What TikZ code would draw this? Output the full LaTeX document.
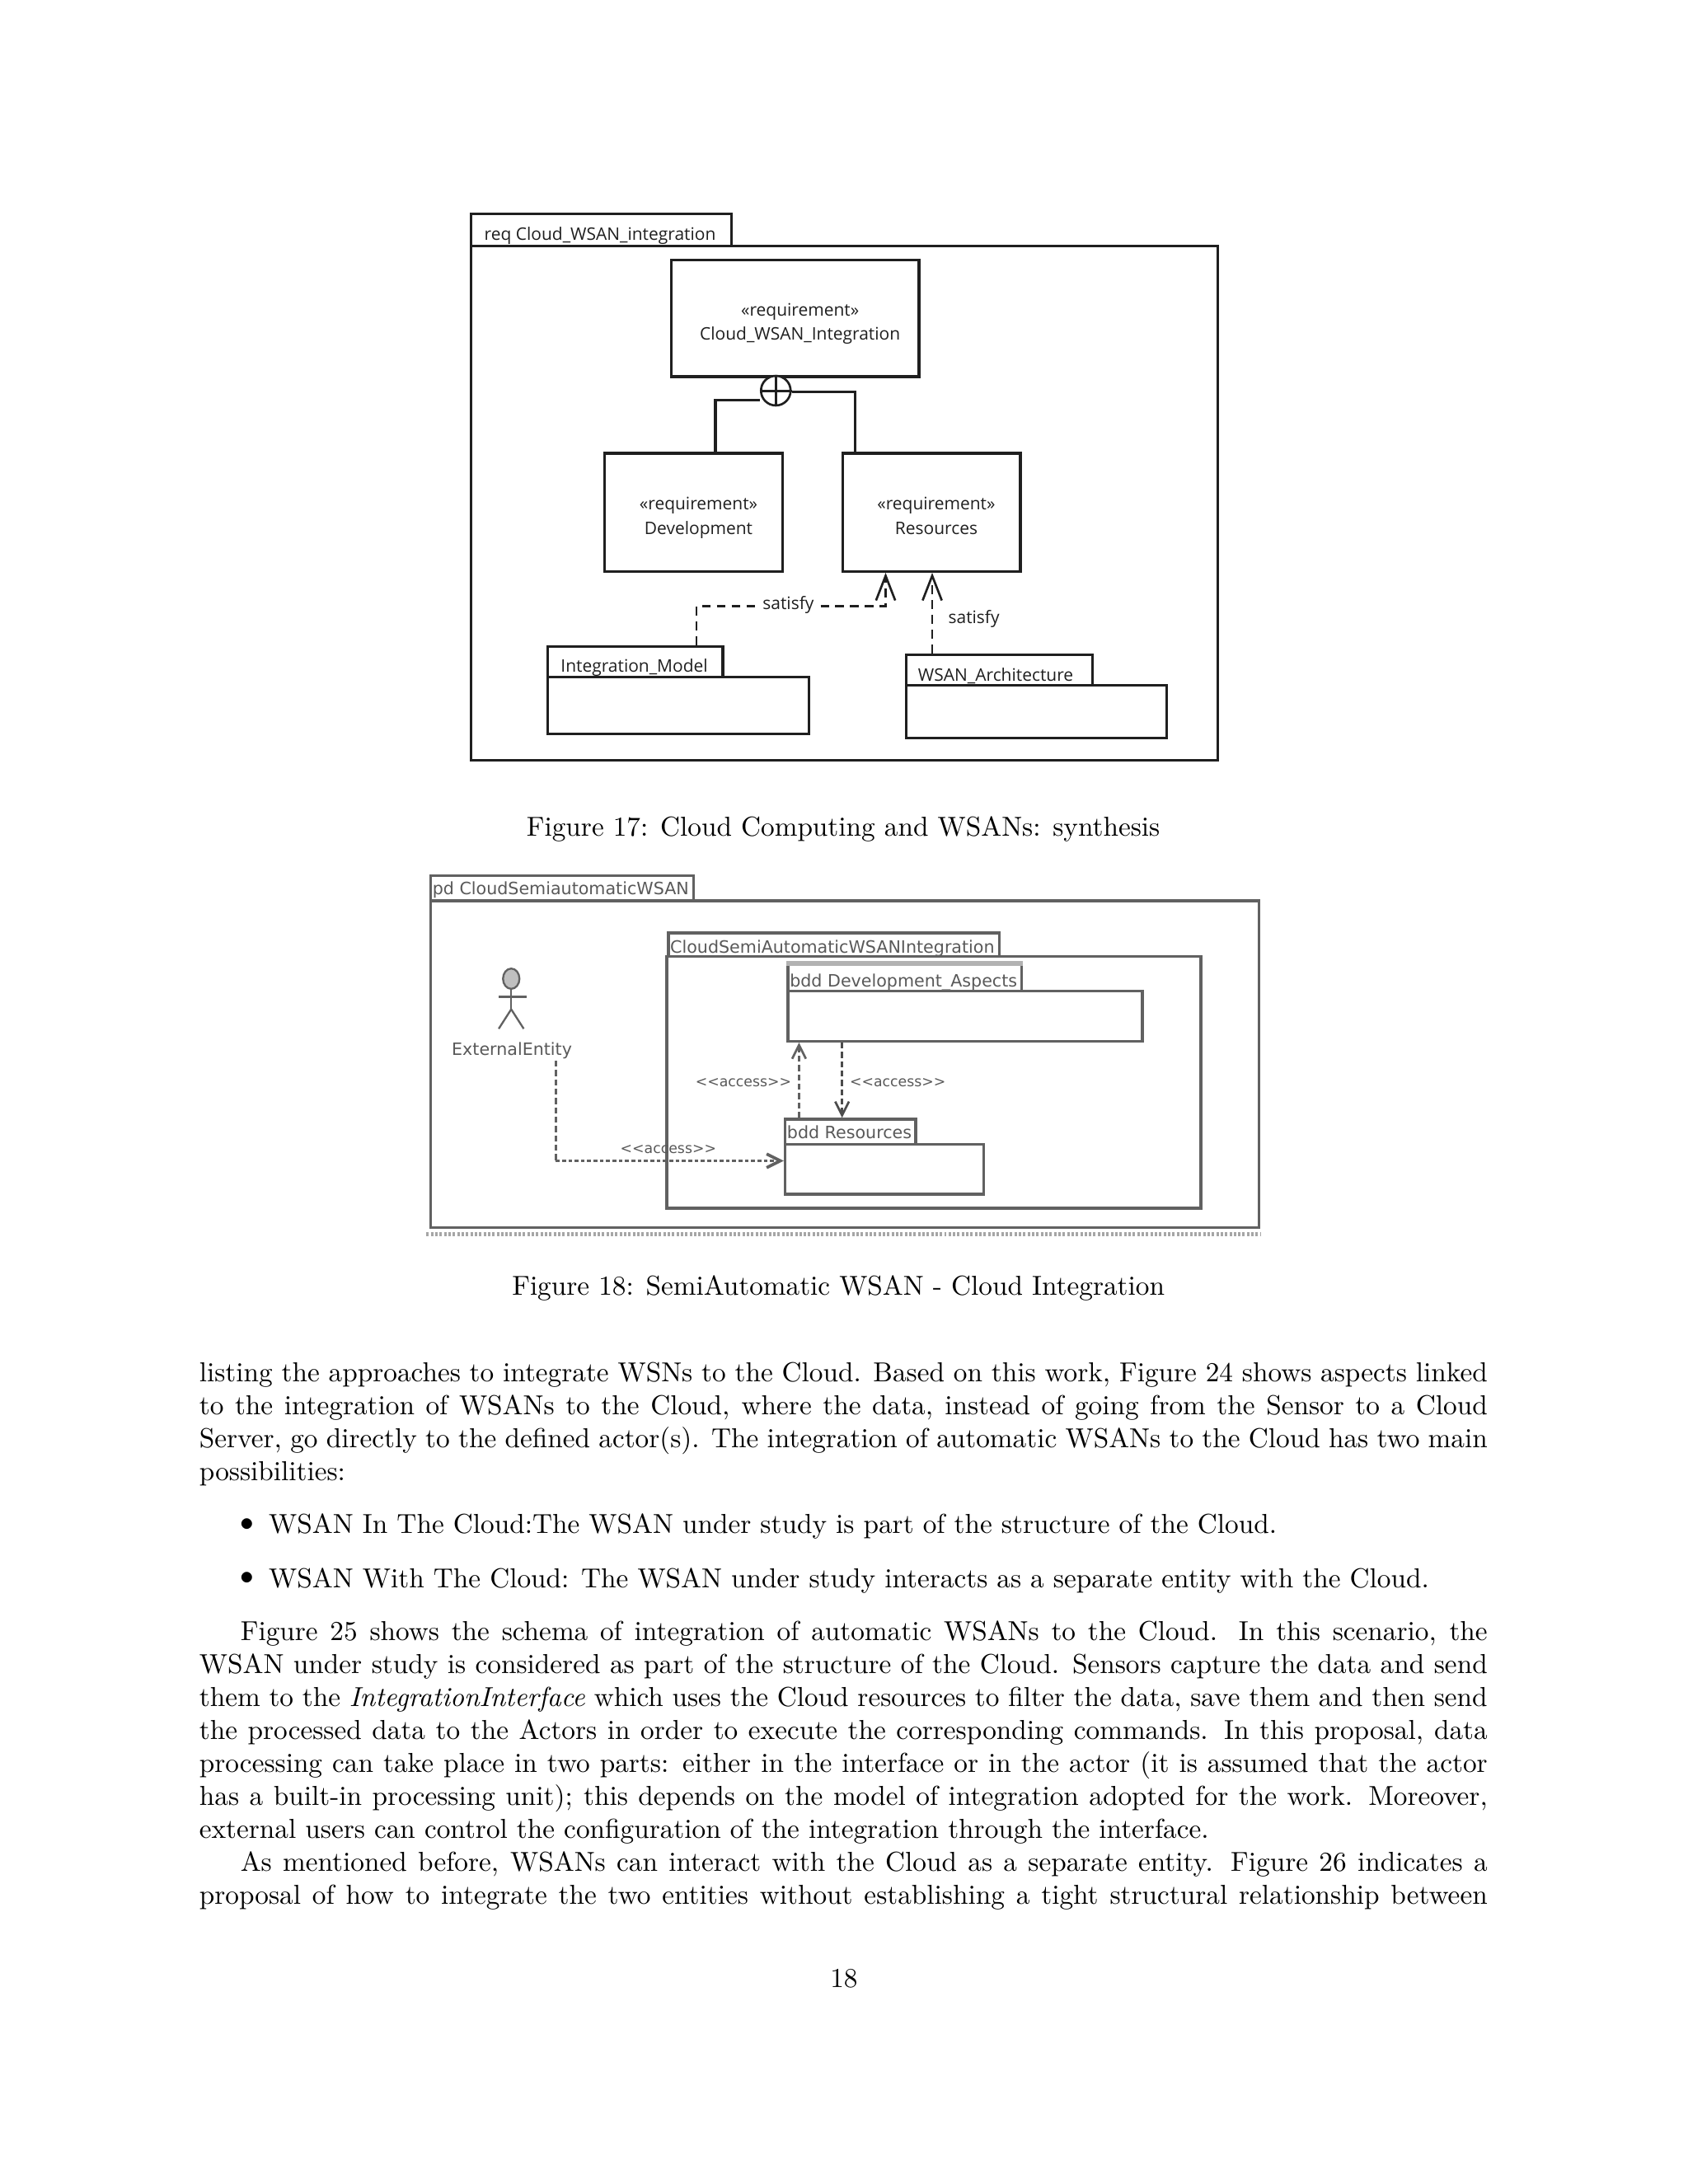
\documentclass[tikz,border=0pt]{standalone}
\usepackage{fontspec}
\usetikzlibrary{arrows.meta,shapes.geometric}
\newfontfamily\reqfont{Open Sans}
\newfontfamily\pdfont{DejaVu Sans}
\def\unitpt{0.507pt}
\newcommand{\reqtext}[1]{\rule{0pt}{9pt}\hspace*{3.5pt}«requirement»\\\hspace*{3.5pt}#1\rule[-2pt]{0pt}{2pt}}
\definecolor{reqline}{gray}{0.12}
\definecolor{pdline}{gray}{0.38}
\definecolor{pdtext}{gray}{0.35}
\tikzset{
    umlbox/.style 2 args={draw, anchor=north west, inner sep=0pt, minimum width=#1*\unitpt, minimum height=#2*\unitpt, align=center},
    reqstyle/.style={line width=1pt, draw=reqline, text=reqline, font=\reqfont\fontsize{6.3}{8.9}\selectfont},
    reqtitle/.style={draw=none, text=reqline, inner sep=0pt, font=\reqfont\fontsize{6.3}{8.9}\selectfont},
    pdstyle/.style={line width=1pt, draw=pdline, text=pdtext, font=\pdfont\fontsize{6.2}{8}\selectfont},
    pdtitle/.style={draw=none, text=pdtext, inner sep=0pt, font=\pdfont\fontsize{6.2}{8}\selectfont},
    accesslabel/.style={draw=none, text=pdtext, inner sep=0pt, font=\pdfont\fontsize{5.2}{6}\selectfont},
    satisfyline/.style={line width=0.8pt, draw=reqline, dash pattern=on 3.2pt off 2.2pt, -{Straight Barb[length=9pt,width=7pt]}},
    accessline/.style={line width=0.8pt, draw=#1, dash pattern=on 2.2pt off 1.2pt, -{Straight Barb[length=5pt,width=5pt]}},
    bodytext/.style={anchor=north west, inner sep=0pt, text width=469.75pt, align=justify},
    captiontext/.style={inner sep=0pt}
}
\begin{document}
\begin{tikzpicture}[x=0.507pt, y=-0.507pt]
    \useasboundingbox (0,0) rectangle (1214,1571);

    % Figure 17: requirement diagram
    \node[umlbox={187}{23}, reqstyle] (reqtab) at (338,153) {};
    \node[reqtitle, anchor=west] (reqname) at (348,169.5) {req Cloud\_WSAN\_integration};
    \node[umlbox={537}{370}, reqstyle] (reqframe) at (338,176) {};
    \node[umlbox={178}{84}, reqstyle] (cloudreq) at (482,186) {\reqtext{Cloud\_WSAN\_Integration}};
    \node[umlbox={128}{85}, reqstyle] (devreq) at (434,325) {\reqtext{Development}};
    \node[umlbox={128}{85}, reqstyle] (resreq) at (605,325) {\reqtext{Resources}};
    \node[umlbox={126}{22}, reqstyle] (intmodeltab) at (393,464) {};
    \node[reqtitle, anchor=west] (intmodelname) at (403,480) {Integration\_Model};
    \node[umlbox={188}{41}, reqstyle] (intmodel) at (393,486) {};
    \node[umlbox={134}{22}, reqstyle] (archtab) at (651,470) {};
    \node[reqtitle, anchor=west] (archname) at (660,486) {WSAN\_Architecture};
    \node[umlbox={187}{38}, reqstyle] (arch) at (651,492) {};

    % containment circle with its cross
    \node[circle, draw=reqline, fill=white, line width=0.8pt, minimum size=10.8pt, inner sep=0pt] (xorcirc) at (558,281) {};
    \draw[reqline, line width=0.9pt] (xorcirc.north) -- (xorcirc.south);
    \draw[reqline, line width=0.9pt] (xorcirc.west) -- (xorcirc.east);

    \coordinate (devbend) at (514.5,288);
    \coordinate (resbend) at (615,282);
    \draw[reqline, line width=1pt] (xorcirc.west |- devbend) -- (devbend) -- (devbend |- devreq.north);
    \draw[reqline, line width=1pt] (xorcirc.east |- resbend) -- (resbend) -- (resbend |- resreq.north);

    % satisfy links
    \coordinate (satbend) at (501,436);
    \coordinate (sattip) at (637,436);
    \coordinate (archtip) at (670.5,436);
    \draw[satisfyline] (satbend |- intmodeltab.north) -- (satbend) -- (sattip) -- (sattip |- resreq.south);
    \draw[satisfyline] (archtip |- archtab.north) -- (archtip |- resreq.south);
    \node[reqtitle, fill=white, inner sep=1pt] (satleft) at (567,435) {satisfy};
    \node[reqtitle] (satright) at (700.5,445.5) {satisfy};

    \node[captiontext] (captionA) at (606.5,596.5) {Figure 17: Cloud Computing and WSANs: synthesis};

    % Figure 18: package diagram
    \begin{scope}[shift={(0.7,1)}]
    \node[umlbox={189}{18}, pdstyle] (pdtab) at (308,628) {};
    \node[pdtitle, anchor=west] (pdname) at (310,639) {pd CloudSemiautomaticWSAN};
    \node[umlbox={596}{235}, pdstyle] (pdframe) at (308,646) {};
    \draw[gray!70, line width=1.5pt, dash pattern=on 0.9pt off 0.7pt] (pdframe.south west) ++(-2,4) coordinate (dotA) -- ++(600,0) coordinate (dotB);
    \node[umlbox={238}{17}, pdstyle] (cloudtab) at (479,669) {};
    \node[pdtitle, anchor=west] (cloudname) at (481,681) {CloudSemiAutomaticWSANIntegration};
    \node[umlbox={384}{181}, pdstyle] (cloudpkg) at (478,686) {};
    \node[umlbox={168}{19}, pdstyle] (devtab) at (565,692) {};
    \draw[gray!60, line width=2pt] (devtab.north west) -- (devtab.north east);
    \node[pdtitle, anchor=west] (devname) at (567,705.5) {bdd Development\_Aspects};
    \node[umlbox={255}{36}, pdstyle] (devpkg) at (565,711) {};
    \node[umlbox={94}{18}, pdstyle] (restab) at (563,803) {};
    \node[pdtitle, anchor=west] (resname) at (565,813.5) {bdd Resources};
    \node[umlbox={143}{36}, pdstyle] (respkg) at (563,821) {};

    % actor
    \node[ellipse, draw=pdline, fill=gray!50, line width=0.7pt, minimum width=6pt, minimum height=7.4pt, inner sep=0pt] (actorhead) at (367,703) {};
    \coordinate (actorhip) at (367,725);
    \draw[pdline, line width=0.7pt] (actorhead.south) -- (actorhip);
    \draw[pdline, line width=0.7pt] (358,716) coordinate (armL) -- (378,716) coordinate (armR);
    \draw[pdline, line width=0.7pt] (actorhip) -- (358,739) coordinate (legL);
    \draw[pdline, line width=0.7pt] (actorhip) -- (376,739) coordinate (legR);
    \node[pdtitle] (actorname) at (367.5,755) {ExternalEntity};

    % access links
    \coordinate (upx) at (574,775);
    \coordinate (downx) at (605,775);
    \coordinate (extstart) at (399,762);
    \coordinate (extbend) at (399,834);
    \draw[accessline=pdline] (upx |- restab.north) -- (upx |- devpkg.south);
    \draw[accessline=black!70] (downx |- devpkg.south) -- (downx |- restab.north);
    \draw[accessline=pdline, -] (extstart) -- (extbend);
    \draw[accessline=pdline, line width=1.1pt, dash pattern=on 1.4pt off 0.9pt] (extbend) -- (extbend -| respkg.west);
    \node[accesslabel] (accessA) at (534,777.5) {<{}<access>{}>};
    \node[accesslabel] (accessB) at (645,777.5) {<{}<access>{}>};
    \node[accesslabel] (accessC) at (480,826) {<{}<access>{}>};
    \end{scope}

    \node[captiontext] (captionB) at (603,926.5) {Figure 18: SemiAutomatic WSAN - Cloud Integration};

    % page text
    \node[bodytext] (paraA) at (143,979.5) {listing the approaches to integrate WSNs to the Cloud. Based on this work, Figure 24 shows aspects linked to the integration of WSANs to the Cloud, where the data, instead of going from the Sensor to a Cloud Server, go directly to the defined actor(s). The integration of automatic WSANs to the Cloud has two main possibilities:};
    \node[inner sep=0pt] (bulletA) at (177.5,1096.5) {$\bullet$};
    \node[anchor=west, inner sep=0pt] (itemA) at (193,1098) {WSAN In The Cloud:The WSAN under study is part of the structure of the Cloud.};
    \node[inner sep=0pt] (bulletB) at (177.5,1135.5) {$\bullet$};
    \node[anchor=west, inner sep=0pt] (itemB) at (193,1137) {WSAN With The Cloud: The WSAN under study interacts as a separate entity with the Cloud.};
    \node[bodytext] (paraB) at (143,1165.5) {\hspace*{15pt}Figure 25 shows the schema of integration of automatic WSANs to the Cloud. In this scenario, the WSAN under study is considered as part of the structure of the Cloud. Sensors capture the data and send them to the \textit{IntegrationInterface} which uses the Cloud resources to filter the data, save them and then send the processed data to the Actors in order to execute the corresponding commands. In this proposal, data processing can take place in two parts: either in the interface or in the actor (it is assumed that the actor has a built-in processing unit); this depends on the model of integration adopted for the work. Moreover, external users can control the configuration of the integration through the interface.};
    \node[bodytext] (paraC) at (143,1331.5) {\hspace*{15pt}As mentioned before, WSANs can interact with the Cloud as a separate entity. Figure 26 indicates a proposal of how to integrate the two entities without establishing a tight structural relationship between\parfillskip=0pt\par};
    \node[captiontext] (pagenum) at (607,1423) {18};
\end{tikzpicture}
\end{document}
